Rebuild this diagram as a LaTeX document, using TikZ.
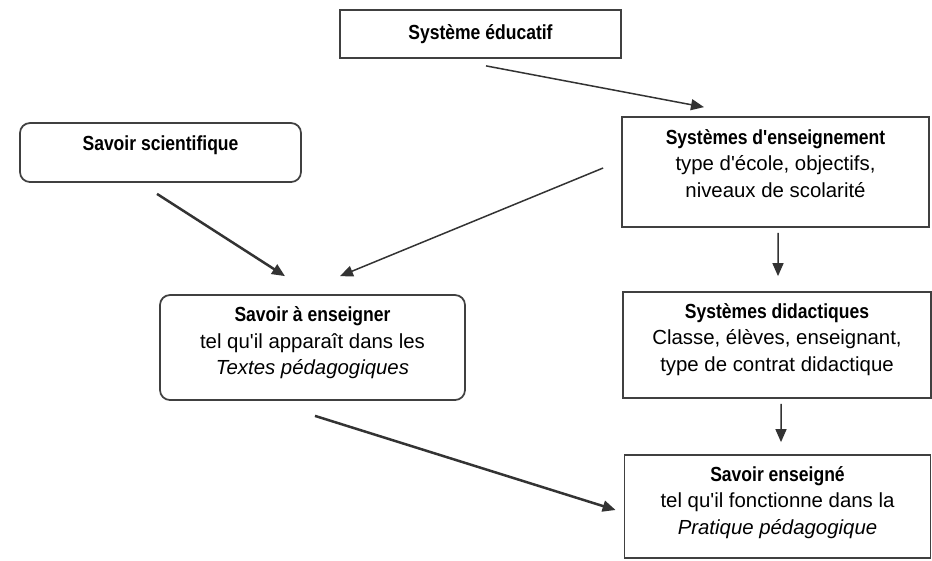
\documentclass[tikz,border=0pt]{standalone}
\usepackage{fontspec}
\setmainfont{Liberation Sans}[Ligatures=TeXOff, BoldFeatures={FakeStretch=0.86}]
\usetikzlibrary{arrows.meta,calc}

\tikzset{
  boite/.style={draw=black!75, line width=0.35mm},
  boiteronde/.style={boite, rounded corners=2mm},
  texte/.style={align=center, font=\fontsize{11.6pt}{15.1pt}\selectfont},
  fleche/.style={draw=black!80, line width=0.3mm, -{Triangle[length=2.6mm,width=2.2mm]}},
  flecheforte/.style={fleche, line width=0.5mm},
}

\begin{document}
\begin{tikzpicture}[x=0.2mm, y=-0.2mm]
    \useasboundingbox (0,0) rectangle (932,560);

    % Boîte du haut
    \node[boite, minimum width=56.2mm, minimum height=9.6mm,
      label={[texte]center:{\textbf{Système éducatif}}}] (educ) at (480.5,34) {};

    % Colonne de gauche : les savoirs
    \node[boiteronde, minimum width=56.2mm, minimum height=11.8mm,
      label={[texte, yshift=1.5mm]center:{\textbf{Savoir scientifique}}}] (scien) at (160.5,152.5) {};
    \node[boiteronde, minimum width=61mm, minimum height=21mm,
      label={[texte, yshift=0.9mm]center:{\textbf{Savoir à enseigner}\\tel qu'il apparaît dans les\\\textit{Textes pédagogiques}}}] (aens) at (312.5,347.5) {};

    % Colonne de droite : les systèmes
    \node[boite, minimum width=61.4mm, minimum height=22mm,
      label={[texte, yshift=1.7mm]center:{\textbf{Systèmes d'enseignement}\\type d'école, objectifs,\\niveaux de scolarité}}] (ens) at (775.5,172) {};
    \node[boite, minimum width=61.6mm, minimum height=21.2mm,
      label={[texte, yshift=1.1mm]center:{\textbf{Systèmes didactiques}\\Classe, élèves, enseignant,\\type de contrat didactique}}] (did) at (777,345) {};
    \node[boite, minimum width=61.2mm, minimum height=20.6mm,
      label={[texte, yshift=0.8mm]center:{\textbf{Savoir enseigné}\\tel qu'il fonctionne dans la\\\textit{Pratique pédagogique}}}] (enseigne) at (777.5,506.5) {};

    % Flèches
    \draw[fleche] ($(educ.south)+(5.5,7)$) -- ($(ens.north)+(-71.5,-9)$);
    \draw[flecheforte] ($(scien.south)+(-3.5,11)$) -- ($(aens.north)+(-27.5,-18)$);
    \draw[fleche] ($(ens.west)+(-18,-4)$) -- ($(aens.north)+(27.5,-18)$);
    \draw[fleche] ($(ens.south)+(2.5,5)$) -- ($(did.north)+(1,-15)$);
    \draw[fleche] ($(did.south)+(4,5)$) -- ($(enseigne.north)+(3.5,-12)$);
    \draw[flecheforte] ($(aens.south)+(2.5,15)$) -- ($(enseigne.west)+(-8,3.5)$);
\end{tikzpicture}
\end{document}
